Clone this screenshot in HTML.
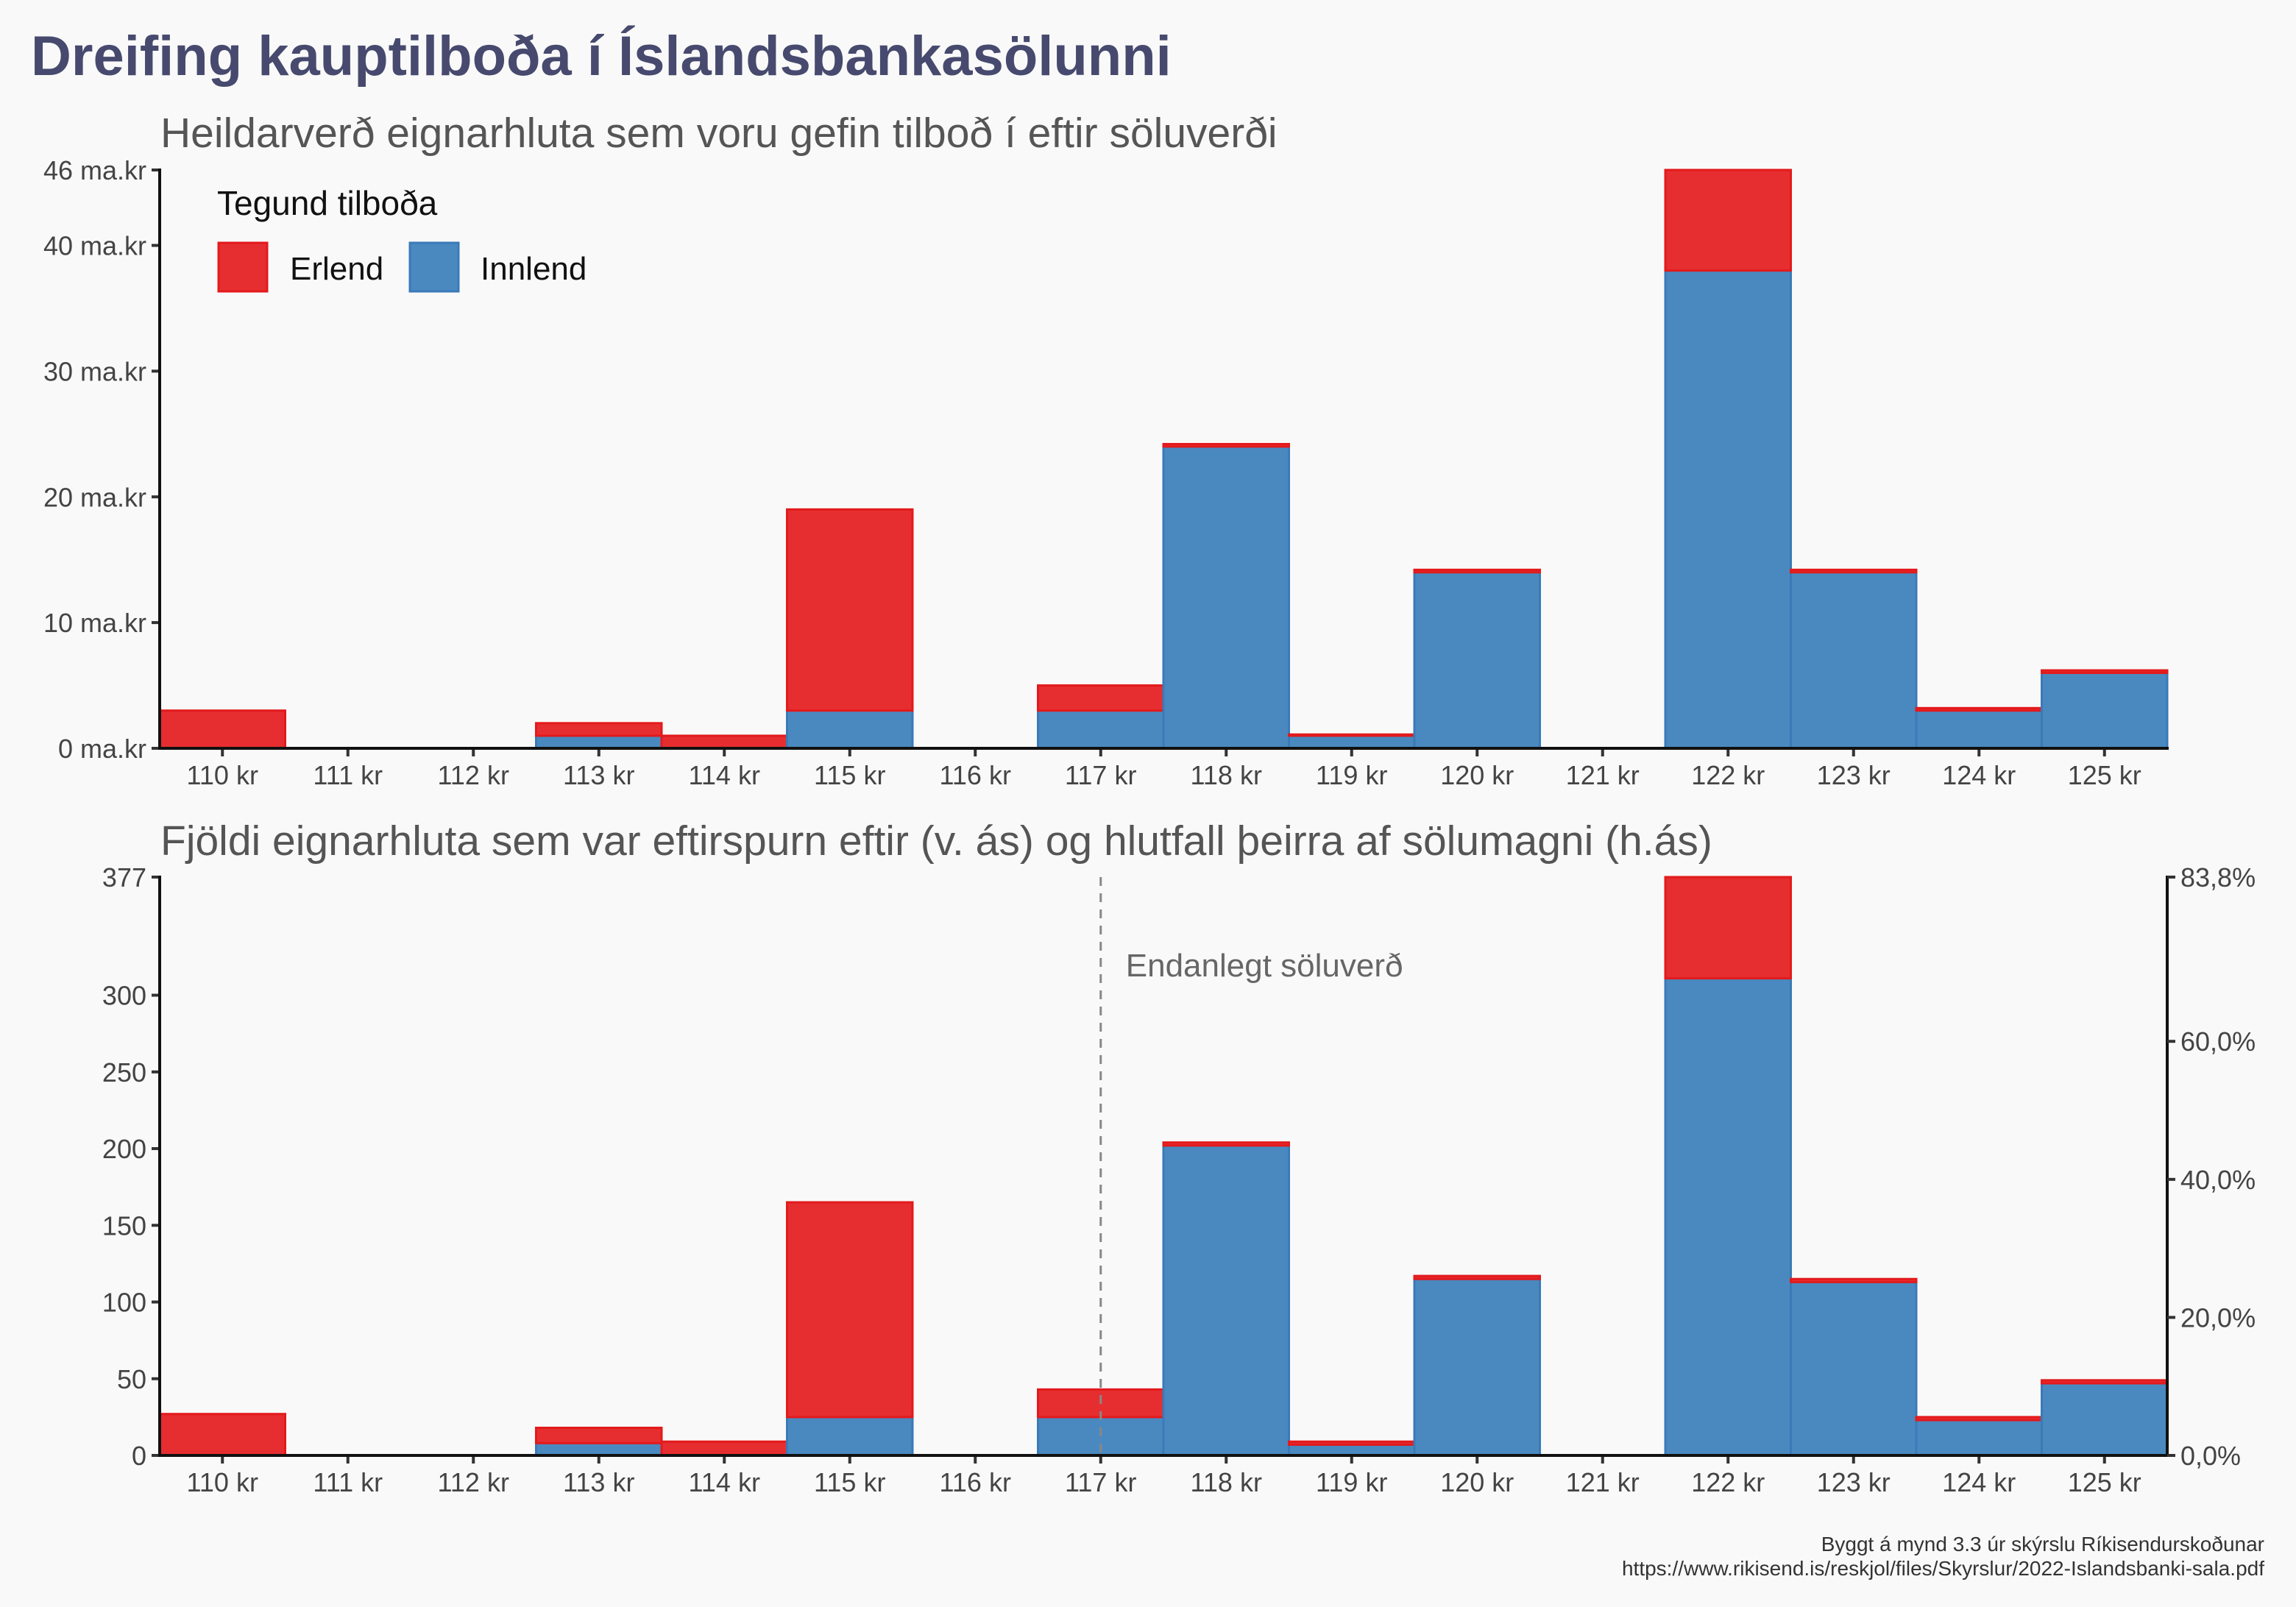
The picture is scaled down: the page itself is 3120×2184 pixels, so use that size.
<!DOCTYPE html>
<html><head><meta charset="utf-8">
<style>
html,body{margin:0;padding:0;background:#f9f9f9;}
svg{display:block;font-family:"Liberation Sans",sans-serif;}
</style></head>
<body>
<svg id="c" width="3120" height="2184" viewBox="0 0 3120 2184" xmlns="http://www.w3.org/2000/svg">
<rect width="3120" height="2184" fill="#f9f9f9"/>
<text x="42" y="102" font-size="76" font-weight="bold" fill="#474a6e">Dreifing kauptilboða í Íslandsbankasölunni</text>
<text x="218" y="200" font-size="57" fill="#555">Heildarverð eignarhluta sem voru gefin tilboð í eftir söluverði</text>
<text x="218" y="1162" font-size="57" fill="#555">Fjöldi eignarhluta sem var eftirspurn eftir (v. ás) og hlutfall þeirra af sölumagni (h.ás)</text>
<g id="topPanel"></g>
<g id="botPanel"></g>
<g>
<text x="295" y="292" font-size="46" fill="#111">Tegund tilboða</text>
<rect x="297" y="330" width="66" height="66" fill="#e62e30" stroke="#e31a1c" stroke-width="3"/>
<text x="394" y="380" font-size="44" fill="#111">Erlend</text>
<rect x="557" y="330" width="66" height="66" fill="#4a89bf" stroke="#3a7ab8" stroke-width="3"/>
<text x="653" y="380" font-size="44" fill="#111">Innlend</text>
</g>
<text x="3077" y="2108" font-size="28" fill="#333" text-anchor="end">Byggt á mynd 3.3 úr skýrslu Ríkisendurskoðunar</text>
<text x="3077" y="2141" font-size="28" fill="#333" text-anchor="end">https://www.rikisend.is/reskjol/files/Skyrslur/2022-Islandsbanki-sala.pdf</text>
</svg>
<script>
const categories = ["110 kr","111 kr","112 kr","113 kr","114 kr","115 kr","116 kr","117 kr","118 kr","119 kr","120 kr","121 kr","122 kr","123 kr","124 kr","125 kr"];
const valueInnlend = [0,0,0,1,0,3,0,3,24,1,14,0,38,14,3,6];
const valueErlend = [3,0,0,1,1,16,0,2,0.2,0.1,0.2,0,8,0.2,0.2,0.2];
const countInnlend = [0,0,0,8,0,25,0,25,202,7,115,0,311,113,23,47];
const countErlend = [27,0,0,10,9,140,0,18,2,2,2,0,66,2,2,2];
const topTicks = [0,10,20,30,40,46];
const leftTicks = [0,50,100,150,200,250,300,377];
const rightTicks = [0,20,40,60,83.8];
const topMax = 46, botMax = 377, pctMax = 83.8;
const finalPriceIndex = 7;

const NS="http://www.w3.org/2000/svg";
const X0=217, X1=2945, BW=(X1-X0)/categories.length;
function xs(i){return X0+i*BW;}
function mk(parent,tag,attrs){const e=document.createElementNS(NS,tag);for(const k in attrs)e.setAttribute(k,attrs[k]);parent.appendChild(e);return e;}

function panel(g,yBase,yTop,max,inn,erl,ticks,fmt){
  const ys=v=>yBase-(v/max)*(yBase-yTop);
  categories.forEach((c,i)=>{
    if(inn[i]>0){const r=mk(g,"rect",{x:xs(i),y:ys(inn[i]),width:BW,height:ys(0)-ys(inn[i]),fill:"#4a89bf",stroke:"#3a7ab8","stroke-width":3});
      
      }
    if(erl[i]>0){const t=inn[i]+erl[i];const r=mk(g,"rect",{x:xs(i),y:ys(t),width:BW,height:ys(inn[i])-ys(t),fill:"#e62e30",stroke:"#e31a1c","stroke-width":3});
      
      }
    const tk=mk(g,"line",{x1:xs(i)+BW/2,x2:xs(i)+BW/2,y1:yBase,y2:yBase+11,stroke:"#333","stroke-width":4});
    
    
    const tl=mk(g,"text",{x:xs(i)+BW/2,y:yBase+49,"font-size":36,fill:"#444","text-anchor":"middle"});tl.textContent=c;
    
    
  });
  ticks.forEach(v=>{
    const l=mk(g,"line",{x1:X0-11,x2:X0,y1:ys(v),y2:ys(v),stroke:"#333","stroke-width":4});
    
    
    const t=mk(g,"text",{x:X0-18,y:ys(v)+13,"font-size":36,fill:"#444","text-anchor":"end"});t.textContent=fmt(v);
    
    
  });
  const ya=mk(g,"line",{x1:X0,x2:X0,y1:yTop-2,y2:yBase+2,stroke:"#111","stroke-width":4});
  
  
  const xa=mk(g,"line",{x1:X0,x2:X1+2,y1:yBase,y2:yBase,stroke:"#111","stroke-width":4});
  
  
  return ys;
}
const topPanel=document.getElementById("topPanel"), botPanel=document.getElementById("botPanel");
panel(topPanel,1017,231,topMax,valueInnlend,valueErlend,topTicks,v=>v+" ma.kr");
panel(botPanel,1978,1192,botMax,countInnlend,countErlend,leftTicks,v=>String(v));
const ra=mk(botPanel,"line",{x1:X1,x2:X1,y1:1190,y2:1980,stroke:"#111","stroke-width":4});


rightTicks.forEach(p=>{
  const y=1978-(p/pctMax)*(1978-1192);
  const l=mk(botPanel,"line",{x1:X1,x2:X1+11,y1:y,y2:y,stroke:"#333","stroke-width":4});
  
  
  const t=mk(botPanel,"text",{x:X1+18,y:y+13,"font-size":36,fill:"#444"});t.textContent=p.toFixed(1).replace(".",",")+"%";
  
  
});
const fx=xs(finalPriceIndex)+BW/2;
const dl=mk(botPanel,"line",{x1:fx,x2:fx,y1:1192,y2:1978,stroke:"#888","stroke-width":3,"stroke-dasharray":"12,10"});


const at=mk(botPanel,"text",{x:fx+34,y:1327,"font-size":44,fill:"#666"});at.textContent="Endanlegt söluverð";


</script>
</body></html>
